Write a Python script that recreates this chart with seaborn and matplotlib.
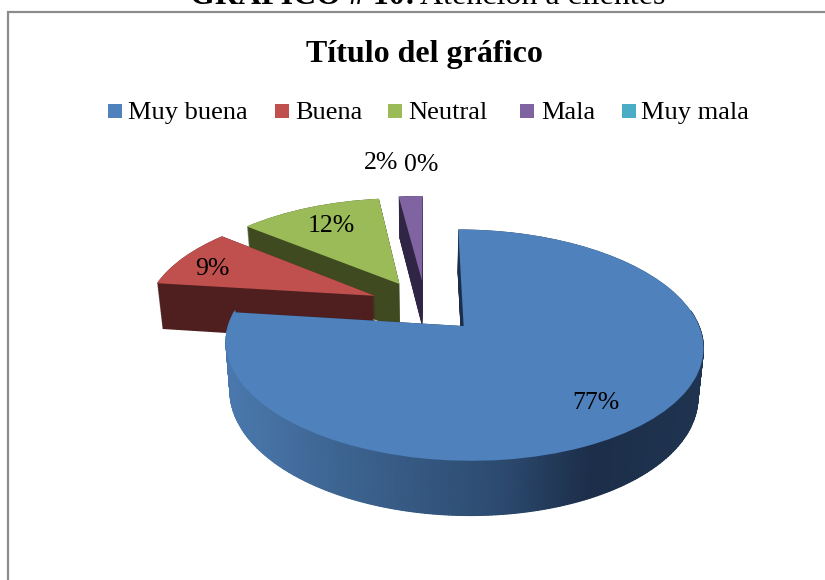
import matplotlib
matplotlib.use("Agg")
import matplotlib.pyplot as plt
import seaborn as sns
import numpy as np
from matplotlib.colors import LinearSegmentedColormap
from matplotlib.patches import Rectangle
from matplotlib.transforms import Transform

# Datos
categorias = ['Muy buena', 'Buena', 'Neutral', 'Mala', 'Muy mala']
porcentajes = [77, 9, 12, 2, 0]
colores = ['#4f81bd', '#c0504d', '#9bbb59', '#8064a2', '#4bacc6']
colores_lado = ['#1c2f4a', '#4e1f1e', '#3f4a20', '#302545', '#1f5a6b']

EXPLOSION = 0.245
CAPAS = 60


class Perspectiva(Transform):
    # pasa del plano de la torta a pixeles, z=1 es la cara de abajo
    input_dims = 2
    output_dims = 2

    def __init__(self, z=0.0):
        super().__init__()
        self.z = z

    def transform_non_affine(self, values):
        x, w = np.asarray(values).T
        esc = 1 + 0.16 * w
        xs = 425.5 + 228.5 * x / esc * (1 - 0.02 * self.z)
        ys = 306 - 106 * w / esc + self.z * 47 / (1 + 0.12 * w)
        return np.column_stack([xs, ys])


def dibujar_torta(ax, z, cols, orden):
    wedges, _ = ax.pie(porcentajes, explode=[EXPLOSION] * len(porcentajes),
                       startangle=90, counterclock=False,
                       wedgeprops={'linewidth': 0})
    for i, w in enumerate(wedges):
        w.set_transform(Perspectiva(z) + ax.transData)
        w.set_facecolor(cols[i])
        w.set_antialiased(True)
        w.set_zorder(orden[i])
    return wedges


sns.set_theme(style="white")
plt.rcParams['font.family'] = ['Liberation Serif', 'DejaVu Serif']

fig = plt.figure(figsize=(8.25, 5.8), dpi=100)
ax = fig.add_axes([0, 0, 1, 1])

# orden de dibujo: morado, verde, rojo, azul
orden_base = [4, 3, 2, 1, 0]

for z in np.linspace(1, 0, CAPAS):
    dibujar_torta(ax, z, colores_lado, [o + 0.1 for o in orden_base])
wedges = dibujar_torta(ax, 0, colores, [o + 0.5 for o in orden_base])

# pared frontal del trozo azul con degradado
th = np.radians(np.linspace(172, 368, 240))
dx = EXPLOSION * np.sin(np.radians(360 * porcentajes[0] / 200))
dy = EXPLOSION * np.cos(np.radians(360 * porcentajes[0] / 200))
arco = np.column_stack([np.cos(th) + dx, np.sin(th) + dy])
arriba = Perspectiva(0).transform(arco)
abajo = Perspectiva(1).transform(arco)
X = np.vstack([arriba[:, 0], abajo[:, 0]])
Y = np.vstack([arriba[:, 1], abajo[:, 1]])
C = np.vstack([arriba[:, 0], arriba[:, 0]])
cmap_lado = LinearSegmentedColormap.from_list(
    'lado', [(0.0, '#4a78ad'), (0.2, '#3f6795'), (0.58, '#2c4a6f'),
             (0.77, '#1c2e49'), (1.0, '#1f3450')])
ax.pcolormesh(X, Y, C, cmap=cmap_lado, vmin=228, vmax=703, shading='gouraud',
              zorder=4.2)

ax.set_aspect('auto')
ax.set_xlim(0, 825)
ax.set_ylim(580, 0)
ax.axis('off')

# marco del grafico
ax.plot([8, 8, 825], [580, 12, 12], color='#8c8c8c', lw=1.6, zorder=1,
        solid_joinstyle='miter')

# titulos
ax.text(190, 4, 'GRÁFICO # 10:', fontsize=23, fontweight='bold', color='black',
        ha='left', va='baseline', clip_on=True)
ax.text(665, 4, 'Atención a clientes', fontsize=23, color='black',
        ha='right', va='baseline', clip_on=True)
ax.text(424, 62, 'Título del gráfico', fontsize=23, fontweight='bold',
        color='black', ha='center', va='baseline')

# leyenda
pos_cuadro = [108, 275, 388, 520, 622]
pos_texto = [128, 295, 408, 541, 641]
for cat, col, xc, xt in zip(categorias, colores, pos_cuadro, pos_texto):
    ax.add_patch(Rectangle((xc, 104), 14, 14, facecolor=col, edgecolor='none'))
    ax.text(xt, 119, cat, fontsize=19, color='black', ha='left', va='baseline')

# etiquetas de porcentaje
pos_etiquetas = [(596, 403), (212, 269), (331, 226), (381, 163), (421, 165)]
for v, (xe, ye) in zip(porcentajes, pos_etiquetas):
    ax.text(xe, ye, f'{v}%', fontsize=18.5, color='black', ha='center',
            va='center', zorder=10)

fig.savefig('out.png', dpi=100)
